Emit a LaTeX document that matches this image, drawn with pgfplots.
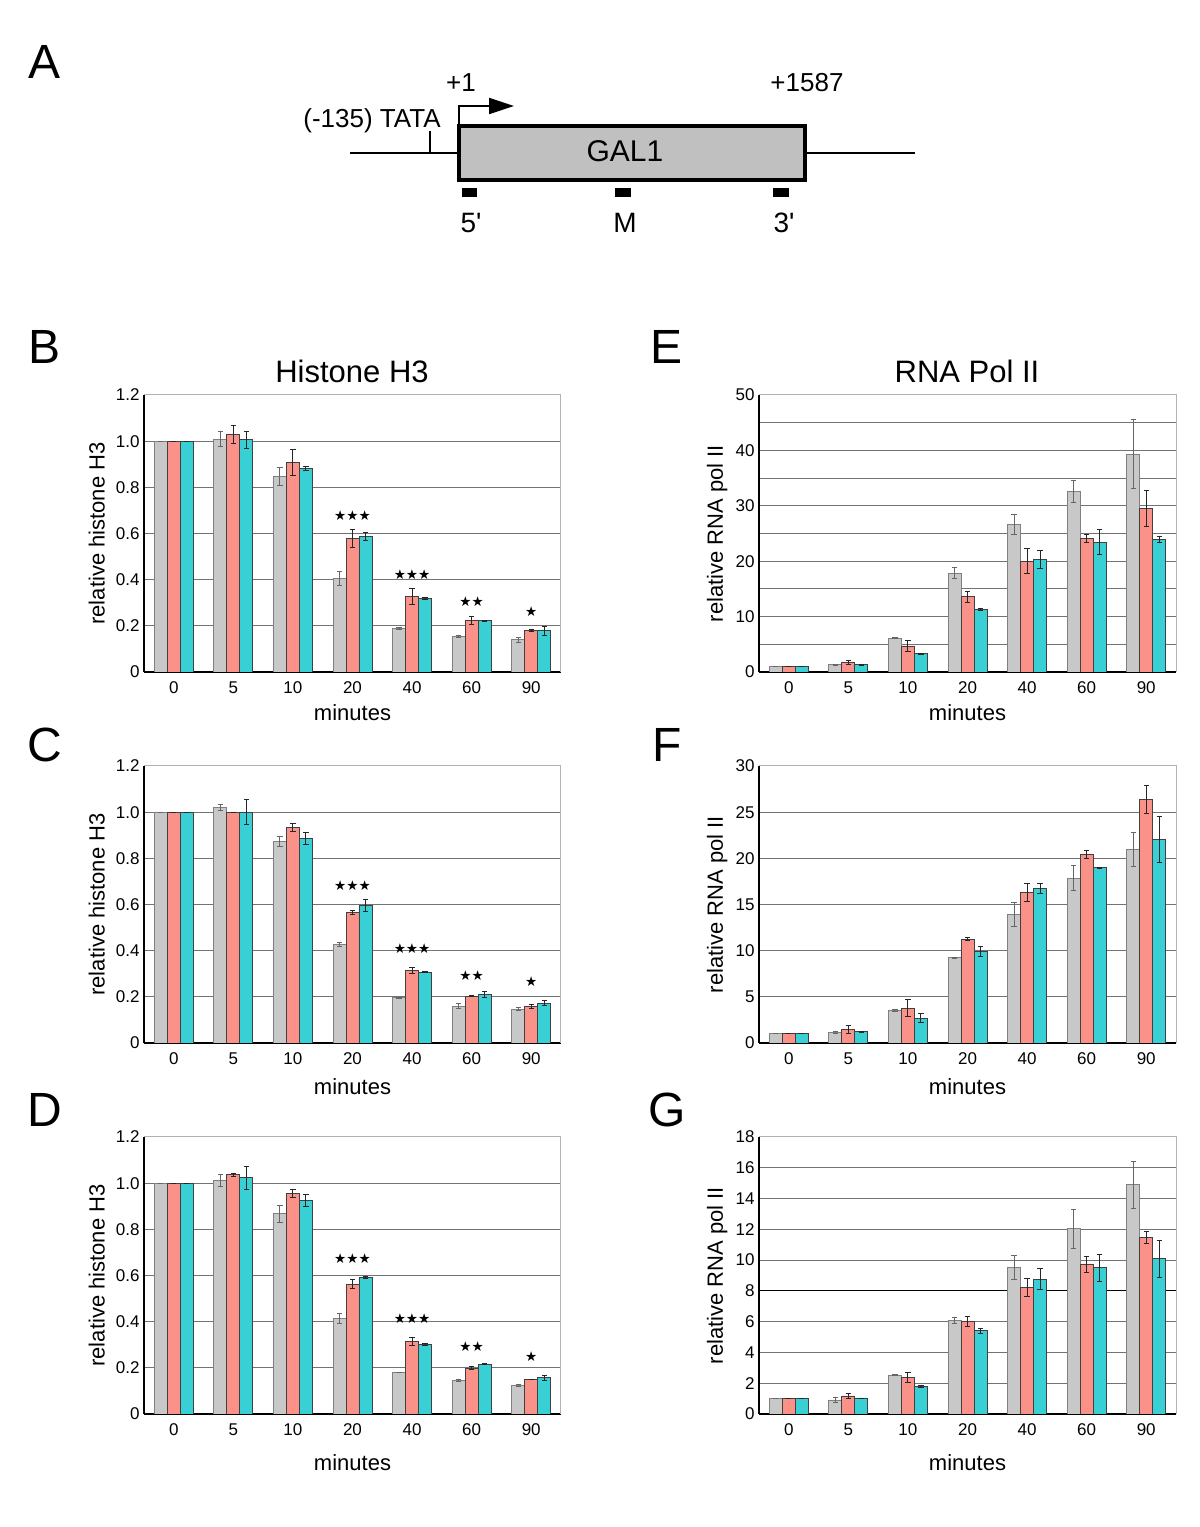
\documentclass[border=0pt]{standalone}
\usepackage{fontspec}
\setmainfont{Liberation Sans}
\newfontfamily\djv{DejaVu Sans}
\usepackage{pgfplots}
\usepackage{pgfplotstable}
\pgfplotsset{compat=1.18}
\usetikzlibrary{arrows.meta}

\definecolor{bargray}{RGB}{200,200,200}
\definecolor{barsal}{RGB}{250,146,138}
\definecolor{barcyan}{RGB}{56,208,212}
\definecolor{boxgray}{RGB}{192,192,192}

% columns: position, gray, err, salmon, err, cyan, err
\pgfplotstableread{
x g ge s se c ce
0 1.000 0 1.000 0 1.000 0
1 1.009 0.031 1.029 0.040 1.006 0.038
2 0.847 0.039 0.908 0.057 0.882 0.007
3 0.405 0.031 0.578 0.040 0.587 0.017
4 0.188 0.003 0.327 0.034 0.318 0.003
5 0.153 0.004 0.223 0.017 0.223 0.002
6 0.139 0.009 0.179 0.004 0.178 0.019
}\tabB
\pgfplotstableread{
x g ge s se c ce
0 1.000 0 1.000 0 1.000 0
1 1.021 0.013 1.000 0 1.000 0.053
2 0.873 0.020 0.935 0.017 0.886 0.024
3 0.428 0.008 0.566 0.009 0.595 0.026
4 0.196 0.002 0.315 0.013 0.307 0.002
5 0.160 0.010 0.203 0.001 0.210 0.012
6 0.147 0.005 0.160 0.009 0.173 0.012
}\tabC
\pgfplotstableread{
x g ge s se c ce
0 1.000 0 1.000 0 1.000 0
1 1.011 0.027 1.037 0.007 1.023 0.049
2 0.867 0.037 0.955 0.018 0.925 0.024
3 0.415 0.021 0.563 0.021 0.592 0.005
4 0.180 0.002 0.315 0.018 0.302 0.004
5 0.147 0.004 0.199 0.008 0.216 0.003
6 0.125 0.004 0.150 0.001 0.157 0.010
}\tabD
\pgfplotstableread{
x g ge s se c ce
0 1.0 0 1.0 0 1.0 0
1 1.3 0.1 1.7 0.4 1.35 0.1
2 6.1 0.1 4.7 0.95 3.3 0.05
3 17.8 1.0 13.6 1.0 11.3 0.15
4 26.6 1.75 20.0 2.25 20.3 1.6
5 32.6 2.0 24.1 0.7 23.4 2.25
6 39.3 6.2 29.5 3.2 23.9 0.55
}\tabE
\pgfplotstableread{
x g ge s se c ce
0 1.0 0 1.0 0 1.0 0
1 1.1 0.1 1.48 0.4 1.2 0.1
2 3.53 0.15 3.78 0.9 2.7 0.5
3 9.22 0.05 11.24 0.15 9.94 0.55
4 13.94 1.3 16.31 1.0 16.75 0.5
5 17.83 1.35 20.42 0.45 19.0 0.05
6 20.96 1.8 26.36 1.55 22.04 2.45
}\tabF
\pgfplotstableread{
x g ge s se c ce
0 1.0 0 1.0 0 1.0 0
1 0.91 0.15 1.17 0.15 1.04 0
2 2.53 0.03 2.38 0.3 1.77 0.07
3 6.07 0.18 5.99 0.32 5.4 0.15
4 9.53 0.78 8.23 0.56 8.77 0.67
5 12.04 1.25 9.75 0.52 9.51 0.87
6 14.89 1.52 11.47 0.37 10.09 1.2
}\tabG

\tikzset{starnode/.style={font=\djv\fontsize{6.8}{7}\selectfont, inner sep=0pt}}

\pgfplotsset{
  /pgf/number format/assume math mode=true,
  panel/.style={
    width=208.5pt, height=138.5pt, scale only axis,
    xmin=-0.5, xmax=6.5, ymin=0,
    xtick={0,...,6}, xticklabels={0,5,10,20,40,60,90},
    major tick length=0pt, minor tick length=0pt,
    axis x line*=bottom, axis y line*=left,
    axis line style={-, black, line width=0.6pt},
    ymajorgrids, grid style={black!55, line width=0.5pt},
    minor grid style={black!55, line width=0.5pt},
    tick label style={font=\fontsize{8.5}{10}\selectfont},
    xticklabel style={yshift=-1.5pt},
    yticklabel style={inner sep=2pt},
    label style={font=\fontsize{11}{13}\selectfont},
    xlabel={minutes},
    after end axis/.code={
      \draw[black!30, line width=0.5pt] (rel axis cs:0,1) -- (rel axis cs:1,1) -- (rel axis cs:1,0);
    },
  },
  h3/.style={panel, ymax=1.2,
    ytick={0,0.2,0.4,0.6,0.8,1.0,1.2},
    yticklabels={0,0.2,0.4,0.6,0.8,1.0,1.2},
    ylabel={relative histone H3},
    ylabel style={at={(axis description cs:-0.113,0.5)}, anchor=center}},
  pol/.style={panel,
    ylabel={relative RNA pol II},
    ylabel style={at={(axis description cs:-0.100,0.5)}, anchor=center}},
  sg/.style={ybar, bar width=0.218, bar shift=0, fill=bargray, draw=black!50, line width=0.45pt,
    error bars/.cd, y dir=both, y explicit,
    error bar style={black!60, line width=0.45pt},
    error mark options={rotate=90, mark size=1.3pt, black!60, line width=0.45pt}},
  ss/.style={ybar, bar width=0.218, bar shift=0, fill=barsal, draw=black!75, line width=0.45pt,
    error bars/.cd, y dir=both, y explicit,
    error bar style={black!85, line width=0.45pt},
    error mark options={rotate=90, mark size=1.3pt, black!85, line width=0.45pt}},
  sc/.style={ybar, bar width=0.218, bar shift=0, fill=barcyan, draw=black!75, line width=0.45pt,
    error bars/.cd, y dir=both, y explicit,
    error bar style={black!85, line width=0.45pt},
    error mark options={rotate=90, mark size=1.3pt, black!85, line width=0.45pt}},
}

% three bars per time point, side by side, each with its own error bar
\newcommand{\bars}[1]{%
  \addplot[sg] table[x expr=\thisrow{x}-0.218, y=g, y error=ge] {#1};
  \addplot[ss] table[x=x, y=s, y error=se] {#1};
  \addplot[sc] table[x expr=\thisrow{x}+0.218, y=c, y error=ce] {#1};
}

\begin{document}
\begin{tikzpicture}
\path[use as bounding box] (0,0) rectangle (600pt,763.5pt);

% canvas in pixel units of the page: panel letters, titles, schematic
\begin{axis}[at={(0,0)}, anchor=south west, width=600pt, height=763.5pt, scale only axis,
  xmin=0, xmax=1200, ymin=0, ymax=1527, y dir=reverse, hide axis, clip=false]
  \addplot[black, line width=0.9pt] coordinates {(350,153) (915,153)};
  \addplot[black, line width=0.9pt] coordinates {(430,131) (430,153)};
  \addplot[fill=boxgray, draw=black, line width=2pt] coordinates {(459,126) (805,126) (805,180) (459,180)} -- cycle;
  \addplot[black, line width=0.9pt, -{Triangle[length=12.5pt, width=8pt]}] coordinates {(459,126) (459,106) (514,106)};
  \addplot[fill=black, draw=none] coordinates {(462,188) (477,188) (477,197) (462,197)} -- cycle;
  \addplot[fill=black, draw=none] coordinates {(615,188) (631,188) (631,197) (615,197)} -- cycle;
  \addplot[fill=black, draw=none] coordinates {(773,188) (789,188) (789,197) (773,197)} -- cycle;
  \node[font=\fontsize{13}{13}\selectfont, anchor=base east, inner sep=0pt] at (axis cs:441,127) {(-135) TATA};
  \node[font=\fontsize{13}{13}\selectfont, anchor=base, inner sep=0pt] at (axis cs:461,92) {+1};
  \node[font=\fontsize{13}{13}\selectfont, anchor=base, inner sep=0pt] at (axis cs:807,92) {+1587};
  \node[font=\fontsize{15}{15}\selectfont, anchor=base, inner sep=0pt] at (axis cs:625,162) {GAL1};
  \node[font=\fontsize{14}{14}\selectfont, anchor=base, inner sep=0pt] at (axis cs:471,232) {5\textquotesingle};
  \node[font=\fontsize{14}{14}\selectfont, anchor=base, inner sep=0pt] at (axis cs:625,232) {M};
  \node[font=\fontsize{14}{14}\selectfont, anchor=base, inner sep=0pt] at (axis cs:784,232) {3\textquotesingle};
  \node[font=\fontsize{24}{24}\selectfont] at (axis cs:45,62) {A};
  \node[font=\fontsize{24}{24}\selectfont] at (axis cs:45,347) {B};
  \node[font=\fontsize{24}{24}\selectfont] at (axis cs:45,745) {C};
  \node[font=\fontsize{24}{24}\selectfont] at (axis cs:45,1110) {D};
  \node[font=\fontsize{24}{24}\selectfont] at (axis cs:667,347) {E};
  \node[font=\fontsize{24}{24}\selectfont] at (axis cs:667,745) {F};
  \node[font=\fontsize{24}{24}\selectfont] at (axis cs:667,1110) {G};
  \node[font=\fontsize{15.5}{16}\selectfont, anchor=base] at (axis cs:352,382) {Histone H3};
  \node[font=\fontsize{15.5}{16}\selectfont, anchor=base] at (axis cs:967,382) {RNA Pol II};
\end{axis}

% B
\begin{axis}[h3, at={(72pt,427.5pt)}, anchor=south west,
  xlabel style={at={(axis description cs:0.5,-0.148)}, anchor=center}]
  \bars{\tabB}
  \node[starnode] at (axis cs:3,0.677) {★★★};
  \node[starnode] at (axis cs:4,0.424) {★★★};
  \node[starnode] at (axis cs:5,0.306) {★★};
  \node[starnode] at (axis cs:6,0.263) {★};
\end{axis}

% C
\begin{axis}[h3, at={(72pt,242pt)}, anchor=south west,
  xlabel style={at={(axis description cs:0.5,-0.159)}, anchor=center}]
  \bars{\tabC}
  \node[starnode] at (axis cs:3,0.680) {★★★};
  \node[starnode] at (axis cs:4,0.410) {★★★};
  \node[starnode] at (axis cs:5,0.294) {★★};
  \node[starnode] at (axis cs:6,0.264) {★};
\end{axis}

% D
\begin{axis}[h3, at={(72pt,56.5pt)}, anchor=south west,
  xlabel style={at={(axis description cs:0.5,-0.177)}, anchor=center}]
  \bars{\tabD}
  \node[starnode] at (axis cs:3,0.674) {★★★};
  \node[starnode] at (axis cs:4,0.412) {★★★};
  \node[starnode] at (axis cs:5,0.294) {★★};
  \node[starnode] at (axis cs:6,0.249) {★};
\end{axis}

% E
\begin{axis}[pol, at={(379.5pt,427.5pt)}, anchor=south west,
  ymax=50, ytick={0,10,...,50}, minor ytick={5,15,...,45}, yminorgrids,
  xlabel style={at={(axis description cs:0.5,-0.148)}, anchor=center}]
  \bars{\tabE}
\end{axis}

% F
\begin{axis}[pol, at={(379.5pt,242pt)}, anchor=south west,
  ymax=30, ytick={0,5,...,30},
  xlabel style={at={(axis description cs:0.5,-0.159)}, anchor=center}]
  \bars{\tabF}
\end{axis}

% G
\begin{axis}[pol, at={(379.5pt,56.5pt)}, anchor=south west,
  ymax=18, ytick={0,2,...,18},
  extra y ticks={8}, extra y tick labels={},
  extra y tick style={grid style={black, line width=0.6pt}},
  xlabel style={at={(axis description cs:0.5,-0.177)}, anchor=center}]
  \bars{\tabG}
\end{axis}
\end{tikzpicture}
\end{document}
